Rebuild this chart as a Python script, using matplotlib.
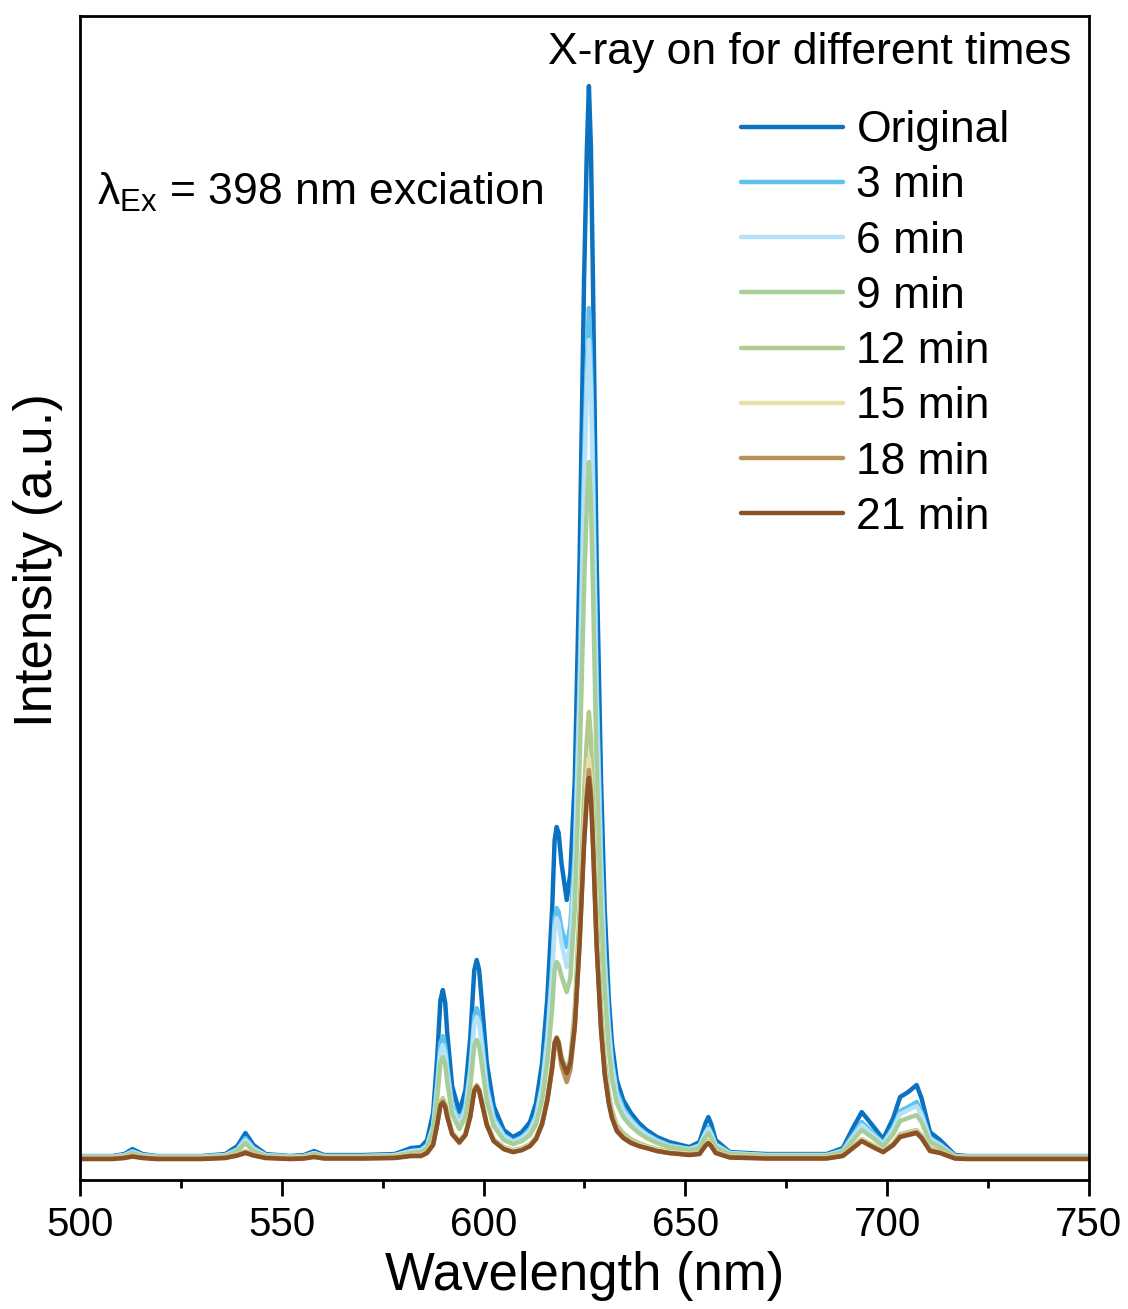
import matplotlib
matplotlib.use("Agg")
import matplotlib.pyplot as plt
from matplotlib.ticker import MultipleLocator

plt.rcParams["font.family"] = ["Liberation Sans", "DejaVu Sans"]

# wavelength grid (nm), shared by all spectra
wavelength = [500, 508, 511, 513, 515.5, 519, 530, 536, 539, 541, 543, 546, 552, 555.5, 558, 560.5,
              570, 578, 582, 584.5, 586, 587.5, 588.5, 589.3, 589.9, 590.5, 591, 592.2, 594, 595.5, 596.7, 597.7, 598.3, 598.9,
              599.5, 600.8, 602.5, 605, 607.3, 609.5, 611.5, 613, 614.5, 615.8, 617, 617.6, 618.1, 618.6, 619.3,
              620.6, 621.5, 622.6, 623.8, 624.9, 625.6, 626.1, 626.6, 627.1, 628.0, 629.1, 630.0,
              631.0, 631.8, 633, 634.6, 636.5, 638.5, 640.4, 643, 646, 651, 653.5, 655.0, 655.7, 656.4, 657.5,
              661, 670, 685, 689, 691.5, 693.7, 696.5, 699, 701.5, 703.2, 705.2, 707.3, 708.5,
              710.6, 713.1, 716.8, 720, 735, 750]

# intensities (a.u.)
original = [2, 2, 4, 9, 4, 2, 2, 4, 12, 25, 13, 4, 2, 3, 7, 3,
            3, 4, 10, 11, 18, 45, 100, 158, 168, 155, 125, 72, 46, 68, 120, 188, 198, 188,
            160, 95, 52, 28, 21, 26, 36, 55, 95, 160, 250, 318, 331, 325, 295,
            258, 285, 378, 600, 878, 1010, 1072, 1010, 878, 600, 378, 250,
            160, 115, 78, 58, 45, 35, 28, 21, 16, 11, 16, 35, 41, 34, 18,
            6, 4, 4, 10, 30, 46, 32, 19, 40, 61, 66, 73, 60,
            26, 18, 3, 2, 2, 2]
min3 = [1.5, 1.5, 3, 7, 3, 1.5, 1.5, 3, 9, 20, 10, 3, 1.5, 2, 5, 2,
        2, 3, 7, 8, 13, 33, 75, 115, 122, 112, 92, 54, 36, 52, 90, 142, 150, 142,
        122, 73, 41, 23, 17, 21, 29, 43, 74, 124, 192, 240, 250, 246, 230,
        211, 233, 305, 480, 700, 800, 850, 800, 700, 480, 305, 205,
        135, 98, 67, 50, 39, 30, 24, 18, 13, 9, 13, 26, 31, 25, 14,
        5, 3, 3, 8, 23, 36, 25, 15, 31, 47, 51, 56, 46,
        20, 14, 2, 1.5, 1.5, 1.5]
min6 = [1.5, 1.5, 3, 6, 3, 1.5, 1.5, 3, 8, 18, 9, 3, 1.5, 2, 5, 2,
        2, 3, 7, 8, 12, 31, 70, 106, 113, 104, 86, 50, 34, 48, 84, 134, 141, 134,
        114, 68, 38, 22, 16, 20, 27, 41, 70, 117, 182, 230, 240, 235, 215,
        191, 215, 290, 460, 670, 770, 818, 770, 670, 460, 290, 195,
        128, 93, 63, 47, 37, 29, 23, 17, 12, 9, 12, 25, 29, 24, 13,
        5, 3, 3, 7, 21, 33, 23, 14, 29, 44, 48, 52, 43,
        19, 13, 2, 1.5, 1.5, 1.5]
min9 = [1, 1, 2, 5, 2, 1, 1, 2, 7, 15, 7, 2, 1, 1.5, 4, 1.5,
        1.5, 2, 5, 6, 10, 27, 60, 95, 101, 93, 76, 44, 29, 41, 72, 112, 118, 112,
        96, 57, 32, 18, 14, 17, 23, 34, 58, 96, 150, 188, 196, 193, 182,
        166, 180, 250, 395, 570, 655, 696, 655, 570, 395, 250, 168,
        110, 80, 55, 41, 32, 25, 20, 15, 11, 8, 10, 21, 25, 20, 11,
        4, 2, 2, 6, 18, 28, 20, 12, 24, 37, 40, 43, 36,
        16, 11, 1.5, 1, 1, 1]
min12 = [0.5, 0.5, 1, 3, 1, 0.5, 0.5, 1, 4, 7, 4, 1, 0.5, 1, 2, 1,
         1, 1, 3, 3, 6, 16, 36, 56, 60, 55, 45, 26, 17, 25, 44, 69, 73, 69,
         59, 35, 19, 11, 8, 10, 14, 21, 36, 60, 93, 116, 121, 117, 102,
         88, 100, 150, 250, 365, 420, 446, 420, 365, 250, 150, 100,
         66, 48, 33, 25, 19, 15, 12, 9, 7, 5, 6, 14, 17, 14, 7,
         2, 1, 1, 4, 12, 19, 13, 7, 15, 24, 26, 28, 23,
         10, 7, 1, 0.5, 0.5, 0.5]
min15 = [0, 0, 1, 2.5, 1, 0, 0, 1, 3.5, 6.5, 3.5, 1, 0, 0.5, 2, 0.5,
         0.5, 1, 3, 3, 6, 15, 35, 55, 58, 53, 43, 25, 16, 24, 43, 68, 72, 68,
         58, 34, 18, 10, 7, 9, 13, 20, 35, 58, 90, 114, 119, 114, 96,
         80, 92, 135, 225, 330, 380, 400, 380, 330, 225, 135, 90,
         60, 44, 30, 22, 17, 13, 11, 8, 6, 4, 5, 13, 16, 13, 6,
         1.5, 0.5, 0.5, 3, 11, 18, 12, 7, 14, 23, 25, 27, 22,
         9, 6, 0.5, 0, 0, 0]
min18 = [-0.5, -0.5, 0.5, 2, 0.5, -0.5, -0.5, 0.5, 3, 6, 3, 0.5, -0.5, 0, 1.5, 0,
         0, 0.5, 2.5, 2.5, 5.5, 14, 34, 54, 57, 52, 42, 24, 15, 23, 42, 68, 72, 68,
         57, 33, 17, 9, 6, 8, 12, 19, 34, 57, 89, 112, 117, 111, 92,
         76, 88, 130, 215, 318, 368, 388, 368, 318, 215, 130, 86,
         57, 42, 29, 21, 16, 12, 10, 7, 5, 3.5, 4.5, 12.5, 15, 12, 5.5,
         1, 0, 0, 2.5, 10, 17, 11, 6, 13, 22, 24, 26, 21,
         8, 5.5, 0, -0.5, -0.5, -0.5]
min21 = [-1, -1, 0, 1.5, 0, -1, -1, 0, 2.5, 5, 2.5, 0, -1, -0.5, 1, -0.5,
         -0.5, 0, 2, 2, 5, 13, 33, 52, 55, 51, 41, 24, 16, 23, 41, 67, 71, 67,
         56, 33, 17, 9, 6, 8, 12, 19, 34, 58, 91, 115, 120, 115, 98,
         85, 95, 132, 215, 313, 360, 380, 360, 313, 213, 128, 84,
         55, 40, 27, 20, 15, 12, 10, 7, 5, 3, 4, 12.5, 15, 12, 5,
         0.5, -0.5, -0.5, 2, 10, 17, 11, 6, 13, 21, 23, 25, 20,
         7, 5, -0.5, -1, -1, -1]

labels = ["Original", "3 min", "6 min", "9 min", "12 min", "15 min", "18 min", "21 min"]
series = [original, min3, min6, min9, min12, min15, min18, min21]
colors = ["#0b71c1", "#5dc3ee", "#b5e2f8", "#a7cd98", "#b2ca8e", "#e4e2aa", "#b8905a", "#8a5226"]

fig = plt.figure(figsize=(11.28, 13.09), dpi=100)
ax = fig.add_axes([0.0709, 0.0985, 0.8945, 0.8893])

for y, lab, c in zip(series, labels, colors):
    ax.plot(wavelength, y, color=c, lw=3.2, label=lab,
            solid_joinstyle="round", solid_capstyle="round")

ax.set_xlim(500, 750)
ax.set_ylim(-22, 1142)
ax.xaxis.set_major_locator(MultipleLocator(50))
ax.xaxis.set_minor_locator(MultipleLocator(25))
ax.tick_params(axis="x", which="major", direction="out", length=11.5, width=2, pad=7, labelsize=29)
ax.tick_params(axis="x", which="minor", direction="out", length=6, width=2)
ax.set_yticks([])
for s in ax.spines.values():
    s.set_linewidth(2)

ax.set_xlabel("Wavelength (nm)", fontsize=38, labelpad=5)
ax.set_ylabel("Intensity (a.u.)", fontsize=38)
ax.yaxis.set_label_coords(-0.0168, 0.533)

ax.text(0.983, 0.9588, "X-ray on for different times", transform=ax.transAxes,
        ha="right", va="baseline", fontsize=32)
ax.text(0.0168, 0.838, "λ$_{\\mathregular{Ex}}$ = 398 nm exciation", transform=ax.transAxes,
        ha="left", va="baseline", fontsize=32)

leg = ax.legend(loc="upper left", bbox_to_anchor=(0.655, 0.919), frameon=False, fontsize=32,
                handlelength=2.3, handletextpad=0.3, labelspacing=0.32, borderpad=0, borderaxespad=0)
for h in leg.get_lines():
    h.set_linewidth(3.2)

fig.savefig("out.png", dpi=100)
